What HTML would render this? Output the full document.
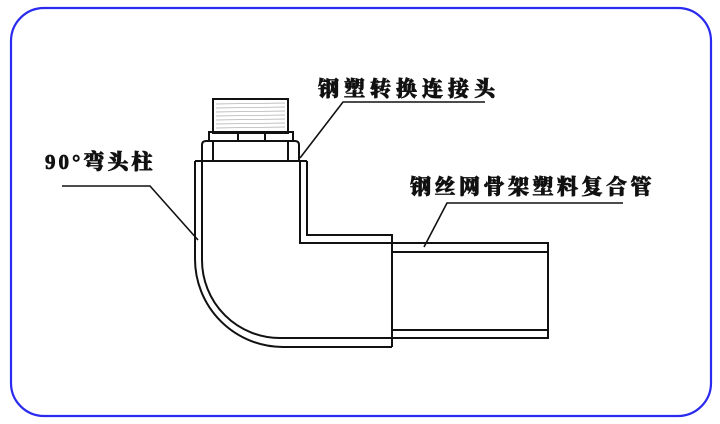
<!DOCTYPE html>
<html><head><meta charset="utf-8"><style>
html,body{margin:0;padding:0;background:#fff;}
svg{display:block}
text{font-family:"Liberation Serif","Noto Serif CJK SC",serif;font-weight:900;fill:#111;stroke:#111;stroke-width:0.7;}
</style></head><body>
<svg width="720" height="424" viewBox="0 0 720 424" xmlns="http://www.w3.org/2000/svg">
<rect x="11" y="8" width="700" height="408" rx="33" ry="33" fill="#fff" stroke="#2a2af0" stroke-width="2.2"/>
<g fill="none" stroke="#111" stroke-width="2">
<rect x="213" y="99" width="75" height="34" fill="#fff"/>
<g stroke="#aaa" stroke-width="0.7">
<line x1="216" y1="104" x2="285" y2="103"/><line x1="216" y1="108" x2="285" y2="107"/>
<line x1="216" y1="112" x2="285" y2="111"/><line x1="216" y1="116" x2="285" y2="115"/>
<line x1="216" y1="120" x2="285" y2="119"/><line x1="216" y1="124" x2="285" y2="123"/>
<line x1="216" y1="128" x2="285" y2="127"/>
</g>
<rect x="209" y="132" width="84" height="9"/>
<line x1="238" y1="132" x2="238" y2="141"/><line x1="265" y1="132" x2="265" y2="141"/>
<path d="M202 161 V145 Q202 141 206 141 H295 Q299 141 299 145 V161"/>
<line x1="213" y1="141" x2="213" y2="161"/><line x1="288" y1="141" x2="288" y2="161"/>
<line x1="195" y1="161" x2="307" y2="161"/>
<path d="M195 161 V259 A88 88 0 0 0 283 347 H392"/>
<path d="M202 161 V260 A78 78 0 0 0 280 338 H392"/>
<path d="M300 161 V243 H392"/>
<path d="M307 161 V235 H392 V347"/>
<path d="M392 243 H548 V338 H392"/>
<line x1="392" y1="252" x2="548" y2="252"/>
<line x1="392" y1="330" x2="548" y2="330"/>
<path d="M485 102 H343 L300 158" stroke-width="1.6"/>
<path d="M62 186 H150 L198 240" stroke-width="1.6"/>
<path d="M623 203 H447 L424 247" stroke-width="1.6"/>
</g>
<text x="318" y="96" font-size="21" letter-spacing="5">钢塑转换连接头</text>
<text x="45" y="169" font-size="21" letter-spacing="3">90°弯头柱</text>
<text x="410" y="194" font-size="21" letter-spacing="3.5">钢丝网骨架塑料复合管</text>
</svg>
</body></html>
